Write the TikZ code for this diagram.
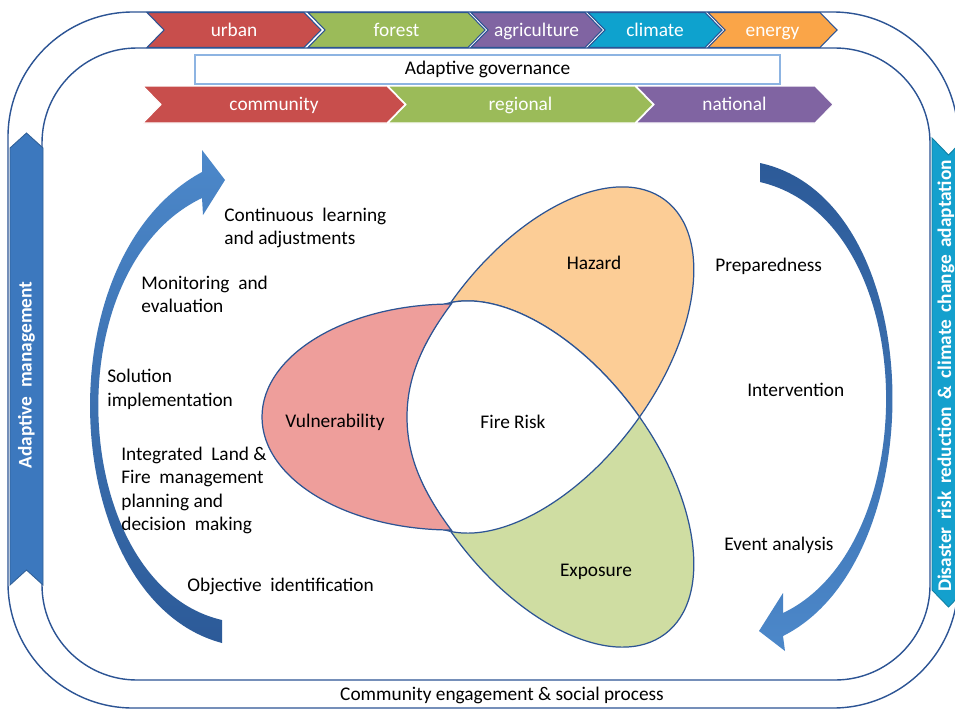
\documentclass[tikz,border=0pt]{standalone}
\usepackage{fontspec}
\setmainfont{Carlito}

\definecolor{framenavy}{RGB}{44,84,148}
\definecolor{urbanred}{RGB}{200,78,76}
\definecolor{forestgreen}{RGB}{155,187,89}
\definecolor{agripurple}{RGB}{128,100,162}
\definecolor{climateblue}{RGB}{14,162,206}
\definecolor{energyorange}{RGB}{250,165,72}
\definecolor{govblue}{RGB}{141,180,226}
\definecolor{mgmtblue}{RGB}{60,120,190}
\definecolor{drrblue}{RGB}{20,160,205}
\definecolor{vulnpink}{RGB}{238,158,155}
\definecolor{hazorange}{RGB}{252,205,150}
\definecolor{expgreen}{RGB}{207,221,162}
\definecolor{arrowlight}{RGB}{76,136,202}
\definecolor{arrowdark}{RGB}{44,90,152}

\newcommand{\widespaces}[1]{\spaceskip=#1\relax}
% the two tilted risk ellipses
\newcommand{\hazardpath}{(545,360) [rotate around={53.13:(545,360)}] ellipse [x radius=200, y radius=110]}
\newcommand{\exposurepath}{(545,474) [rotate around={-53.13:(545,474)}] ellipse [x radius=200, y radius=110]}

\tikzset{
  frameline/.style={draw=framenavy, line width=0.8pt},
  vennline/.style={draw=framenavy, line width=0.7pt},
  steptext/.style={font=\fontsize{11}{13.4}\selectfont, inner sep=0pt, align=left},
  chevtext/.style={font=\fontsize{11}{13}\selectfont, text=white, inner sep=0pt, text height=1.6ex, text depth=0.45ex},
  bannertext/.style={font=\bfseries\fontsize{11}{13}\selectfont\widespaces{#1}, text=white, inner sep=0pt, rotate=90},
  bannertext/.default=0.45em,
}

\begin{document}
\begin{tikzpicture}[x=0.02cm, y=-0.02cm]
  \useasboundingbox (0,0) rectangle (955,710);
  \fill[white] (0,0) rectangle (955,710);

  % the two loops
  \draw[frameline, rounded corners=2.5cm] (8,12) rectangle (958,708);
  \draw[frameline, rounded corners=1.9cm] (42,48) rectangle (930,680);

  % sectors
  \foreach \l/\r/\col/\lbl in {147/304/urbanred/urban, 308/468/forestgreen/forest,
      471/585/agripurple/agriculture, 588/705/climateblue/climate, 708/820/energyorange/energy}
  {
    \draw[fill=\col, draw=framenavy, line width=0.6pt]
      (\l,12.5) -- (\r,12.5) -- (\r+17,30) -- (\r,47.5) -- (\l,47.5) -- (\l+17,30) -- cycle;
    \node[chevtext] (\lbl) at ({(\l+\r)/2+8.5},31.5) {\lbl};
  }

  % governance levels
  \node[draw=govblue, fill=white, line width=0.8pt, minimum width=11.7cm, minimum height=0.58cm,
        inner sep=0pt, font=\fontsize{11}{13}\selectfont] (governance) at (487.5,69.5) {Adaptive governance};
  \foreach \l/\r/\col/\lbl in {143/387/urbanred/community, 388/635/forestgreen/regional,
      636/815/agripurple/national}
  {
    \draw[fill=\col, draw=white, line width=0.6pt]
      (\l,86) -- (\r,86) -- (\r+18,104.5) -- (\r,123) -- (\l,123) -- (\l+18,104.5) -- cycle;
    \node[chevtext] (\lbl) at ({(\l+\r)/2+9},106) {\lbl};
  }

  % side banners
  \draw[fill=mgmtblue, draw=mgmtblue!80!black, line width=0.5pt]
    (10,148) -- (26.5,133) -- (43,148) -- (43,585) -- (26.5,570) -- (10,585) -- cycle;
  \node[bannertext] (adaptmgmt) at (26.5,375) {Adaptive management};
  \draw[fill=drrblue, draw=drrblue!80!black, line width=0.5pt]
    (932,138) -- (948.5,155) -- (965,138) -- (965,590) -- (948.5,607) -- (932,590) -- cycle;
  \node[bannertext=0.38em] (drr) at (946,376) {Disaster risk reduction \& climate change adaptation};

  % risk diagram
  \draw[vennline, fill=hazorange] \hazardpath;
  \draw[vennline, fill=expgreen] \exposurepath;
  \begin{scope}
    \clip \hazardpath;
    \fill[white] \exposurepath;
    \draw[vennline] \exposurepath;
  \end{scope}
  \begin{scope}
    \clip \exposurepath;
    \draw[vennline] \hazardpath;
  \end{scope}
  % vulnerability, left of the core
  \begin{scope}
    \clip (452,-10) -- (452,303) .. controls (422,343) and (407,378) .. (407,417)
      .. controls (407,456) and (422,491) .. (452,531) -- (452,720) -- (-10,720) -- (-10,-10) -- cycle;
    \draw[vennline, fill=vulnpink] (452,417) ellipse [x radius=190, y radius=113];
  \end{scope}
  \draw[vennline] (452,303) .. controls (422,343) and (407,378) .. (407,417)
    .. controls (407,456) and (422,491) .. (452,531);

  \node[steptext] (hazard) at (594,263) {Hazard};
  \node[steptext] (vulnerability) at (335,422) {Vulnerability};
  \node[steptext] (firerisk) at (513,422) {Fire Risk};
  \node[steptext] (exposure) at (596,572) {Exposure};

  % management cycle
  \shade[top color=arrowlight, bottom color=arrowdark]
    (222,643) .. controls (60,600) and (40,260) .. (202,172) -- (202,150) -- (225,180)
    -- (203,215) -- (202,198) .. controls (52,270) and (70,585) .. (222,620) -- cycle;
  % response cycle
  \shade[top color=arrowdark, bottom color=arrowlight]
    (760,163) .. controls (930,200) and (935,560) .. (783,636) -- (785,651) -- (759,631)
    -- (783,593) -- (783,613) .. controls (926,545) and (922,220) .. (760,182) -- cycle;

  \node[steptext, anchor=west] (learning) at (224,228) {Continuous\ \ learning\\and adjustments};
  \node[steptext, anchor=west] (monitoring) at (141,294.5) {Monitoring\ \ and\\evaluation};
  \node[steptext, anchor=west] (solution) at (107,389.5) {Solution\\implementation};
  \node[steptext, anchor=west] (planning) at (121,490.5) {Integrated\ \ Land \&\\Fire\ \ management\\planning and\\decision\ \ making};
  \node[steptext, anchor=west] (objective) at (187,586) {Objective\ \ identification};
  \node[steptext, anchor=west] (preparedness) at (715,266) {Preparedness};
  \node[steptext, anchor=west] (intervention) at (747,390) {Intervention};
  \node[steptext, anchor=west] (eventanalysis) at (724,545) {Event analysis};

  \node[steptext] (engagement) at (502,695) {Community engagement \& social process};
\end{tikzpicture}
\end{document}
